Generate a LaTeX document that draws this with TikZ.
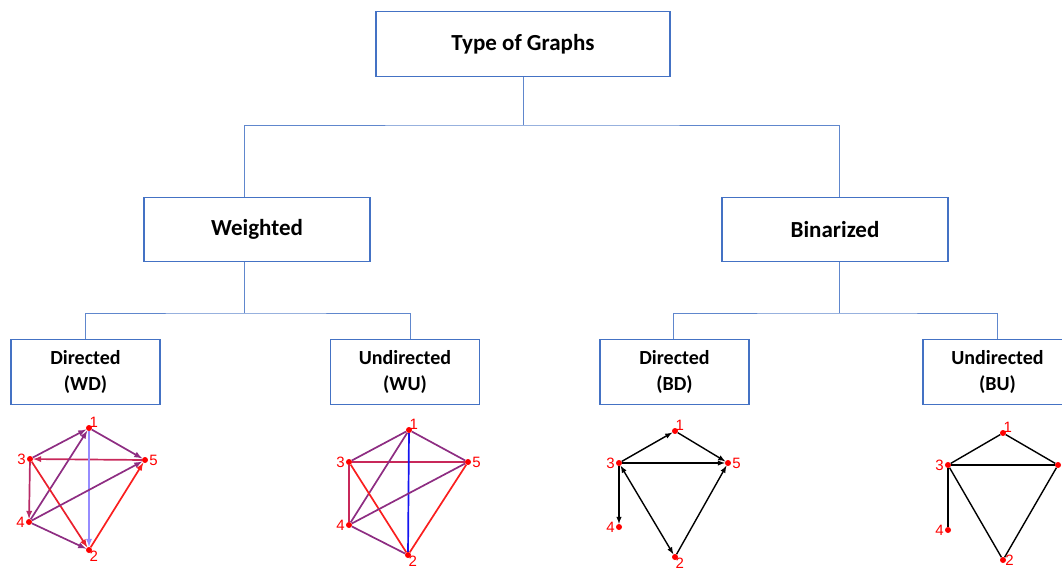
\documentclass[tikz,border=0pt]{standalone}
\usepackage{fontspec}
\setmainfont{Carlito}
\newfontfamily\lblfont{Liberation Sans}
\usetikzlibrary{arrows,positioning}

\definecolor{boxblue}{RGB}{68,114,196}
\definecolor{purpleE}{RGB}{142,45,130}
\definecolor{crimsonE}{RGB}{200,40,90}
\definecolor{redE}{RGB}{250,30,30}
\definecolor{lavE}{RGB}{150,140,255}
\definecolor{blueE}{RGB}{20,20,240}

\begin{document}
\begin{tikzpicture}[x=1pt, y=-1pt,
    box/.style={draw=boxblue, line width=1.8pt, fill=white, align=center,
        font=\fontsize{23}{27}\selectfont\bfseries,
        minimum width=226pt, minimum height=64pt},
    subbox/.style={box, font=\fontsize{20}{26}\selectfont\bfseries,
        minimum width=149pt, minimum height=65pt},
    conn/.style={draw=boxblue!85, line width=0.9pt},
    vtx/.style={circle, fill=red, inner sep=0pt, minimum size=6pt},
    lbl/.style={text=red, font=\lblfont\fontsize{15}{15}\selectfont, inner sep=1pt},
    ed/.style={line width=1.7pt},
    dir/.style={ed, -latex}
]
\useasboundingbox (0,0) rectangle (1062,571);
\clip (0,0) rectangle (1062,571);

% boxes
\node[box, minimum width=294pt, minimum height=65pt] (top) at (523,44) {Type of Graphs};
\node[box] (wt) at (257,229.5) {Weighted};
\node[box] (bin) at (835,229.5) {Binarized};
\node[subbox] (wd) at (85.5,372) {Directed\\(WD)};
\node[subbox] (wu) at (405,372) {Undirected\\(WU)};
\node[subbox] (bd) at (674.5,372) {Directed\\(BD)};
\node[subbox] (bu) at (997.5,372) {Undirected\\(BU)};

% tree
\coordinate (j0) at (523,125);
\coordinate (j1) at (244,313);
\coordinate (j2) at (839,313);
\draw[conn] (top.south) -- (j0);
\draw[conn] ([xshift=-13pt]wt.north) |- (j0) -| ([xshift=4pt]bin.north);
\draw[conn] ([xshift=-13pt]wt.south) -- (j1);
\draw[conn] (wd.north) |- (j1) -| ([xshift=5pt]wu.north);
\draw[conn] ([xshift=4pt]bin.south) -- (j2);
\draw[conn] ([xshift=-1.5pt]bd.north) |- (j2) -| (bu.north);

% weighted directed
\node[vtx, label={[lbl,label distance=-4pt]above right:1}] (wd1) at (89,428) {};
\node[vtx, label={[lbl]left:3}] (wd3) at (30,459) {};
\node[vtx, label={[lbl]right:5}] (wd5) at (145,460) {};
\node[vtx, label={[lbl]left:4}] (wd4) at (29,522) {};
\node[vtx, label={[lbl,label distance=-4pt]below right:2}] (wd2) at (89,550) {};
\draw[dir, purpleE] (wd3) -- (wd1);
\draw[dir, purpleE] (wd1) -- (wd5);
\draw[dir, crimsonE] (wd5) -- (wd3);
\draw[dir, lavE] (wd1) -- (wd2);
\draw[dir, purpleE] (wd4) -- (wd1);
\draw[dir, crimsonE!70!purpleE] (wd3) -- (wd4);
\draw[dir, redE!85!purpleE] (wd3) -- (wd2);
\draw[dir, purpleE] (wd4) -- (wd5);
\draw[dir, purpleE] (wd4) -- (wd2);
\draw[dir, redE] (wd2) -- (wd5);

% weighted undirected
\node[vtx, label={[lbl,label distance=-4pt]above right:1}] (wu1) at (409,430) {};
\node[vtx, label={[lbl]left:3}] (wu3) at (349,462) {};
\node[vtx, label={[lbl]right:5}] (wu5) at (468,462) {};
\node[vtx, label={[lbl]left:4}] (wu4) at (349,525) {};
\node[vtx, label={[lbl,label distance=-4pt]below right:2}] (wu2) at (408,555) {};
\draw[ed, purpleE] (wu3) -- (wu1);
\draw[ed, purpleE] (wu1) -- (wu5);
\draw[ed, crimsonE, line width=2.6pt] (wu3) -- (wu5);
\draw[ed, blueE] (wu1) -- (wu2);
\draw[ed, purpleE] (wu4) -- (wu1);
\draw[ed, crimsonE, line width=2.6pt] (wu3) -- (wu4);
\draw[ed, redE] (wu3) -- (wu2);
\draw[ed, purpleE] (wu4) -- (wu5);
\draw[ed, purpleE] (wu4) -- (wu2);
\draw[ed, redE] (wu2) -- (wu5);

% binarized directed
\node[vtx, label={[lbl,label distance=-4pt]above right:1}] (bd1) at (675,431) {};
\node[vtx, label={[lbl]left:3}] (bd3) at (619,463) {};
\node[vtx, label={[lbl]right:5}] (bd5) at (728,463) {};
\node[vtx, label={[lbl]left:4}] (bd4) at (619,527) {};
\node[vtx, label={[lbl,label distance=-4pt]below right:2}] (bd2) at (675,557) {};
\draw[dir, line width=1.4pt] (bd3) -- (bd1);
\draw[dir, line width=1.4pt] (bd1) -- (bd5);
\draw[dir, line width=1.4pt] (bd3) -- (bd5);
\draw[dir, line width=1.4pt] (bd3) -- (bd4);
\draw[ed, latex-latex, line width=1.4pt] (bd3) -- (bd2);
\draw[dir, line width=1.4pt] (bd2) -- (bd5);

% binarized undirected
\node[vtx, label={[lbl,label distance=-4pt]above right:1}] (bu1) at (1003,433) {};
\node[vtx, label={[lbl]left:3}] (bu3) at (948,465) {};
\node[vtx] (bu5) at (1058,465) {};
\node[vtx, label={[lbl]left:4}] (bu4) at (948,530) {};
\node[vtx, label={[lbl,label distance=-2pt]right:2}] (bu2) at (1003,560) {};
\draw[ed, line width=1.4pt] (bu3) -- (bu1);
\draw[ed, line width=1.4pt] (bu1) -- (bu5);
\draw[ed, line width=2.4pt] (bu3) -- (bu5);
\draw[ed, line width=1.4pt] (bu3) -- (bu4);
\draw[ed, line width=1.4pt] (bu3) -- (bu2);
\draw[ed, line width=1.4pt] (bu2) -- (bu5);
\end{tikzpicture}
\end{document}
